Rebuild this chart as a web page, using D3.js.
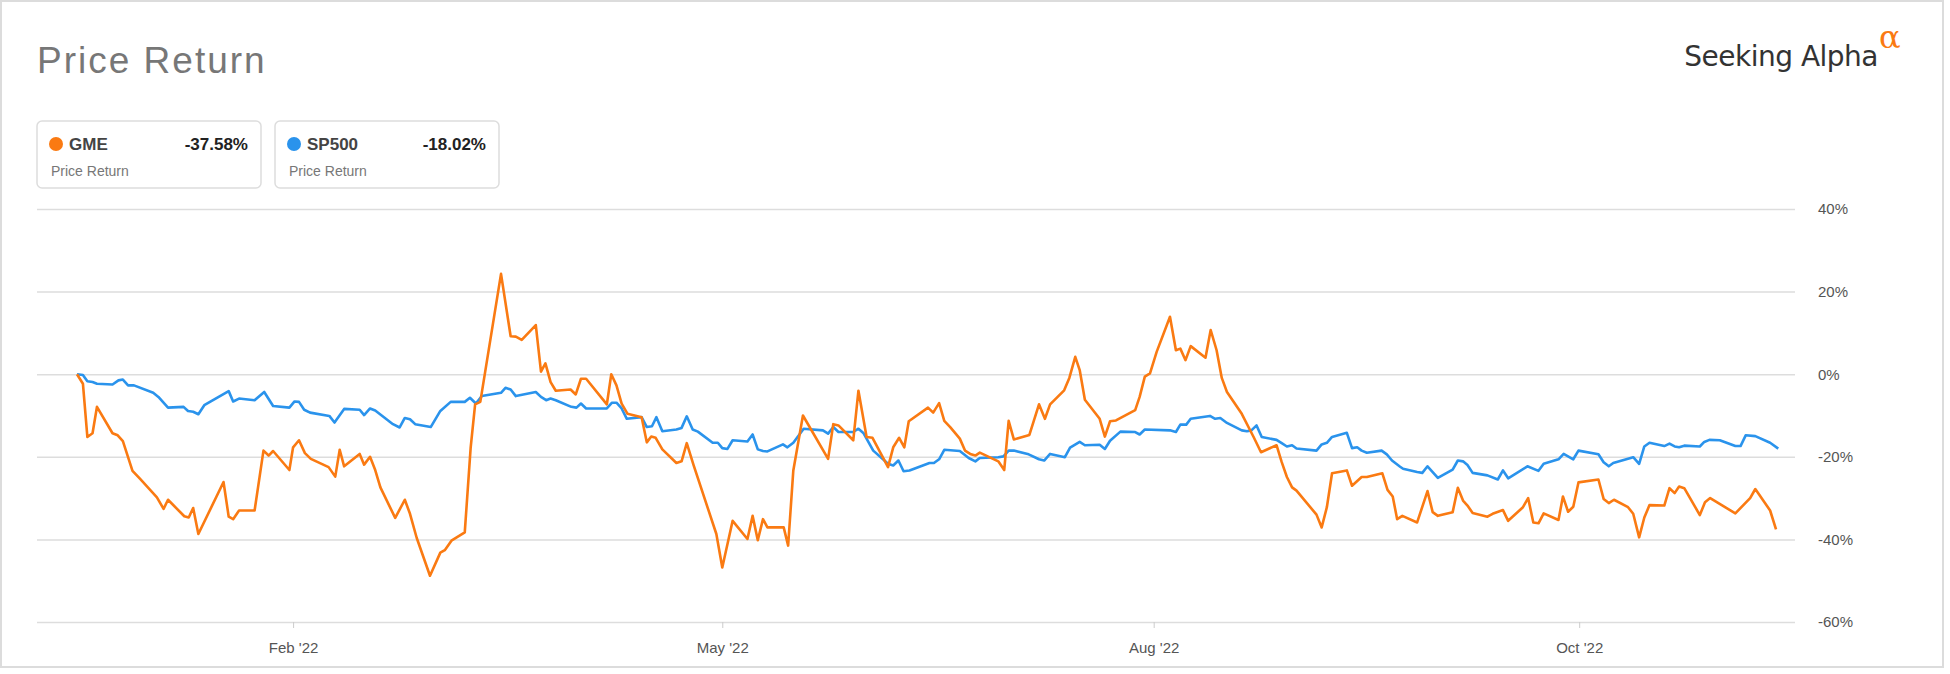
<!DOCTYPE html>
<html lang="en">
<head>
<meta charset="UTF-8">
<title>Price Return</title>
<script src="https://cdn.jsdelivr.net/npm/d3@7"></script>
<style>
  body { margin: 0; background: #fff; }
  svg { font-family: "Liberation Sans", Arial, sans-serif; }
</style>
</head>
<body>
<script>
// trading-day index and price return (%)
var gmeDay = [0,0.8,1.4,2.1,2.7,4.8,5.5,6.2,7.5,8.5,10.8,11.7,12.3,14.5,15.1,15.7,16.4,19.8,20.5,21.1,21.9,24.0,25.2,25.9,26.5,28.7,29.2,30.0,30.8,31.6,34.0,34.9,35.5,36.1,38.2,38.8,39.6,40.3,41.0,43.0,44.3,45.0,45.9,47.7,49.1,49.7,50.6,52.4,53.2,53.8,54.5,57.3,58.6,59.3,
  60.1,62.0,62.7,63.3,64.0,64.7,66.7,67.4,68.1,68.8,71.6,72.2,72.9,73.6,74.4,76.3,77.0,77.6,78.2,79.1,81.0,81.7,82.4,83.3,86.4,87.2,88.6,90.6,91.3,92.0,92.7,93.3,95.5,96.1,96.8,98.1,101.5,102.2,102.9,104.9,105.6,106.7,107.5,109.6,110.3,111.1,111.8,112.4,115.0,115.7,116.5,117.2,118.0,119.3,
  120.0,120.7,121.4,122.0,124.5,125.3,125.9,126.6,128.7,130.0,130.8,131.5,133.4,134.1,134.9,135.5,136.2,138.2,138.9,139.6,140.4,143.0,143.6,144.3,145.0,145.9,147.7,148.5,149.1,149.8,150.5,152.5,153.2,154.0,154.7,155.4,157.4,159.0,160.0,162.1,162.8,163.5,164.2,164.8,167.5,168.2,168.9,169.6,171.6,172.3,173.6,174.3,176.4,177.1,177.8,178.4,
  179.1,181.1,182.5,183.2,183.9,185.9,186.6,187.3,187.9,188.6,190.6,191.3,192.7,193.4,195.4,196.1,196.8,197.5,198.2,200.2,200.8,201.5,202.2,202.9,205.6,206.3,207.0,207.7,209.6,210.3,211.1,211.8,212.5,214.5,215.2,215.9,216.5,217.2,219.3,220.0,220.7,224.1,226.1,226.8,228.8,229.6];
var gmeVal = [0,-2.3,-15.2,-14.3,-7.9,-14.3,-14.8,-16.2,-23.4,-25.3,-29.8,-32.6,-30.4,-34.4,-34.7,-32.4,-38.7,-26.1,-34.5,-35.1,-33.0,-33.0,-18.5,-19.7,-18.6,-23.2,-17.7,-16.0,-19.1,-20.5,-22.5,-24.8,-18.3,-22.3,-19.3,-21.9,-20.0,-23.2,-27.4,-34.8,-30.4,-33.8,-39.6,-48.8,-43.2,-42.6,-40.3,-38.3,-17.7,-7.3,-6.7,24.3,9.2,9.1,
  8.3,11.9,0.6,2.6,-1.9,-4.0,-3.7,-4.9,-1.1,-1.1,-7.3,0,-2.7,-7.1,-9.6,-10.4,-16.5,-15.1,-15.4,-18.2,-21.5,-21.1,-16.7,-21.9,-38.7,-46.8,-35.5,-39.9,-34.3,-40.2,-35.1,-37.1,-37.1,-41.5,-23.3,-10.0,-20.5,-12.1,-12.4,-16.0,-4.0,-15.2,-15.4,-22.5,-17.7,-15.4,-17.7,-11.4,-8.1,-9.3,-7.0,-11.3,-12.8,-15.6,
  -18.5,-19.3,-19.7,-19.0,-21.1,-23.2,-11.3,-15.8,-14.7,-7.3,-10.8,-7.3,-3.9,-0.9,4.2,1.0,-6.2,-10.8,-15.1,-11.4,-11.2,-8.7,-5.5,-0.6,0.2,5.4,13.9,5.8,6.2,3.4,6.8,4.0,10.7,5.8,-0.9,-4.3,-9.6,-15.2,-18.9,-17.2,-21.3,-24.9,-27.4,-28.2,-34.0,-37.1,-32.2,-24.0,-23.3,-27.0,-24.9,-24.9,-24.0,-28.0,-29.6,-35.1,
  -34.3,-35.9,-28.3,-33.4,-34.3,-33.4,-27.5,-30.6,-31.8,-33.6,-34.5,-33.8,-32.9,-35.5,-32.2,-30.0,-35.9,-36.1,-33.7,-35.3,-29.6,-33.3,-32.1,-26.2,-25.5,-30.2,-31.2,-30.4,-32.2,-33.8,-39.5,-34.7,-31.7,-31.8,-27.6,-28.8,-27.2,-27.6,-34.1,-31.0,-30.0,-33.7,-30.0,-27.8,-33.0,-37.58];

var spDay = [0,0.8,1.4,2.1,2.7,4.8,5.6,6.2,6.9,7.7,10.3,11.0,12.3,14.4,15.0,15.7,16.4,17.2,20.5,21.1,21.9,24.0,25.3,26.5,28.7,29.4,30.0,30.7,31.5,34.1,34.8,36.1,38.2,38.8,39.6,40.3,42.7,43.6,44.3,45.0,45.7,47.8,49.1,50.5,52.4,53.1,53.9,54.7,57.3,57.9,58.6,59.3,
  62.0,62.7,63.4,64.0,64.7,66.8,67.5,68.1,68.8,71.6,72.3,72.9,73.6,74.3,76.3,77.0,77.7,78.3,79.1,81.0,81.7,82.4,83.2,83.9,85.9,86.6,87.2,87.9,88.6,90.6,91.3,92.0,92.7,93.3,95.4,96.0,96.8,98.2,100.8,101.5,102.2,102.9,104.9,105.6,106.3,107.6,109.6,110.3,111.0,111.7,112.5,115.2,115.8,116.5,117.2,119.3,
  120.5,121.4,122.0,124.5,125.2,125.9,126.6,128.6,130.0,130.7,131.5,133.5,134.2,135.5,136.2,138.2,138.9,139.6,141.0,143.0,143.6,144.3,147.7,148.5,149.1,149.9,150.5,153.1,153.8,154.5,155.4,157.4,158.1,158.7,159.4,160.1,162.1,162.8,163.5,164.2,164.8,167.5,168.2,168.9,169.6,171.6,172.3,173.0,173.6,174.3,176.3,177.0,177.7,178.8,
  179.2,181.1,181.8,182.5,183.9,185.9,186.6,187.3,187.9,188.6,190.6,192.0,192.7,193.4,196.0,197.5,198.2,200.2,200.9,202.2,202.9,205.6,206.3,207.0,207.6,210.3,211.1,211.8,212.5,214.5,215.2,215.9,216.5,217.2,219.3,219.9,220.6,222.0,224.1,224.8,225.5,226.8,228.8,229.9];
var spVal = [0,-0.2,-1.7,-1.9,-2.3,-2.5,-1.5,-1.3,-2.7,-2.7,-4.5,-5.5,-8.1,-7.9,-8.9,-9.1,-9.7,-7.5,-4.1,-6.6,-5.9,-6.3,-4.3,-7.7,-8.1,-6.6,-6.7,-8.6,-9.3,-10.1,-11.7,-8.4,-8.6,-9.9,-8.3,-8.8,-12.1,-12.9,-10.6,-10.9,-12.1,-12.8,-8.9,-6.7,-6.7,-5.7,-7.1,-5.3,-4.5,-3.3,-3.7,-5.3,
  -4.3,-5.5,-6.3,-5.9,-6.3,-7.9,-8.1,-7.1,-8.3,-8.3,-6.9,-6.9,-8.3,-10.8,-10.4,-12.8,-12.6,-10.4,-13.8,-13.4,-13.0,-10.2,-13.4,-13.9,-16.6,-16.6,-17.9,-18.1,-16.0,-16.3,-14.6,-18.2,-18.6,-18.7,-17.0,-17.7,-16.6,-13.2,-13.6,-14.4,-12.8,-14.0,-14.0,-13.2,-14.3,-18.5,-21.7,-22.1,-20.9,-23.5,-23.3,-21.5,-21.5,-20.6,-18.3,-18.6,
  -20.3,-21.1,-20.3,-20.1,-19.9,-18.5,-18.5,-19.4,-20.6,-20.9,-19.3,-20.1,-17.8,-16.4,-17.2,-17.1,-18.1,-16.1,-13.9,-14.0,-14.6,-13.4,-13.6,-14.0,-12.2,-12.2,-10.8,-10.1,-10.8,-10.6,-11.8,-13.6,-13.8,-13.6,-12.4,-15.2,-15.9,-16.7,-17.5,-17.2,-18.0,-18.5,-17.0,-16.6,-15.2,-14.2,-17.9,-17.7,-18.5,-19.0,-18.5,-19.4,-20.9,-22.4,
  -22.9,-23.7,-23.9,-22.3,-25.1,-23.1,-20.9,-21.1,-22.0,-23.9,-24.5,-25.5,-23.3,-25.2,-22.3,-23.4,-21.7,-20.6,-19.3,-20.6,-18.5,-19.4,-21.3,-22.3,-21.5,-20.1,-21.7,-17.5,-16.6,-17.4,-16.8,-17.5,-17.7,-17.3,-17.5,-16.4,-15.9,-16.0,-17.4,-17.4,-14.8,-15.0,-16.6,-18.02];

var tickDays = [29.2, 87.2, 145.5, 203];
var tickLabels = ["Feb '22", "May '22", "Aug '22", "Oct '22"];
var yTicks = [40, 20, 0, -20, -40, -60];

var seriesNames = ["GME", "SP500"];
var seriesLast = ["-37.58%", "-18.02%"];
var seriesColors = ["#fa7a12", "#2a93ec"];

var W = 1950, H = 674;
var svg = d3.select("body").append("svg").attr("width", W).attr("height", H);

// card border
svg.append("rect").attr("x", 1).attr("y", 1).attr("width", W - 8).attr("height", H - 8)
  .attr("fill", "#fff").attr("stroke", "#dcdcdc").attr("stroke-width", 2);

svg.append("text").attr("x", 37).attr("y", 73).attr("font-size", 37)
  .attr("letter-spacing", 2).attr("fill", "#777").text("Price Return");

// logo
svg.append("text").attr("x", 1878).attr("y", 66).attr("text-anchor", "end")
  .attr("font-family", "'DejaVu Sans', sans-serif").attr("font-size", 28).attr("fill", "#333")
  .attr("letter-spacing", -0.5).text("Seeking Alpha");
svg.append("text").attr("x", 1879).attr("y", 48).attr("font-family", "'DejaVu Serif', serif")
  .attr("font-size", 32).attr("fill", "#fa7a12").text("\u03b1");

// legend boxes
seriesNames.forEach(function (name, i) {
  var bx = 37 + i * 238;
  var g = svg.append("g").attr("transform", "translate(" + bx + ",121)");
  g.append("rect").attr("width", 224).attr("height", 67).attr("rx", 5)
    .attr("fill", "#fff").attr("stroke", "#ddd").attr("stroke-width", 1.5);
  g.append("circle").attr("cx", 19).attr("cy", 23).attr("r", 7).attr("fill", seriesColors[i]);
  g.append("text").attr("x", 32).attr("y", 29).attr("font-size", 17).attr("font-weight", "bold")
    .attr("fill", "#444").text(name);
  g.append("text").attr("x", 211).attr("y", 29).attr("text-anchor", "end").attr("font-size", 17)
    .attr("font-weight", "bold").attr("fill", "#222").text(seriesLast[i]);
  g.append("text").attr("x", 14).attr("y", 55).attr("font-size", 14).attr("fill", "#777").text("Price Return");
});

// scales
var x = d3.scaleLinear().domain([0, 230]).range([77, 1779]);
var y = d3.scaleLinear().domain([-60, 40]).range([622, 209]);

// grid + right labels
var yAxis = d3.axisRight(y).tickValues(yTicks).tickSize(1795 - 37)
  .tickFormat(function (d) { return d + "%"; });
svg.append("g").attr("transform", "translate(37,0)").call(yAxis)
  .call(function (g) {
    g.select(".domain").remove();
    g.selectAll(".tick line").attr("stroke", "#ddd").attr("stroke-width", 1.5);
    g.selectAll(".tick text").attr("x", 1781).attr("font-size", 15).attr("fill", "#555")
      .attr("font-family", "'Liberation Sans', Arial, sans-serif");
  });

// x axis
var xAxis = d3.axisBottom(x).tickValues(tickDays).tickSize(6)
  .tickFormat(function (d, i) { return tickLabels[i]; });
svg.append("g").attr("transform", "translate(0,622)").call(xAxis)
  .call(function (g) {
    g.select(".domain").remove();
    g.selectAll(".tick line").attr("stroke", "#ccc");
    g.selectAll(".tick text").attr("y", 20).attr("font-size", 15).attr("fill", "#555")
      .attr("font-family", "'Liberation Sans', Arial, sans-serif");
  });

// lines
var line = d3.line().x(function (d) { return x(d[0]); }).y(function (d) { return y(d[1]); });
var spPts = d3.zip(spDay, spVal);
var gmePts = d3.zip(gmeDay, gmeVal);
svg.append("path").datum(spPts).attr("d", line).attr("fill", "none")
  .attr("stroke", seriesColors[1]).attr("stroke-width", 2.6).attr("stroke-linejoin", "round");
svg.append("path").datum(gmePts).attr("d", line).attr("fill", "none")
  .attr("stroke", seriesColors[0]).attr("stroke-width", 2.6).attr("stroke-linejoin", "round");
</script>
</body>
</html>
